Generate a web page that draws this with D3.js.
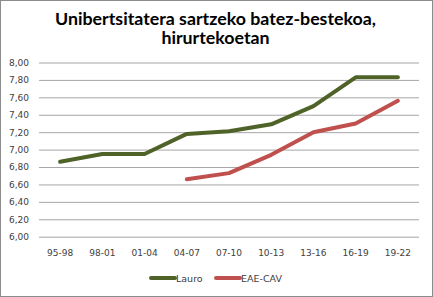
<!DOCTYPE html>
<meta charset="utf-8">
<script src="https://d3js.org/d3.v7.min.js"></script>
<style>
  body { margin: 0; background: #fff; }
</style>
<div id="chart"></div>
<script>
// data
var periods = ["95-98", "98-01", "01-04", "04-07", "07-10", "10-13", "13-16", "16-19", "19-22"];
var lauro   = [6.86, 6.95, 6.95, 7.18, 7.21, 7.29, 7.50, 7.83, 7.83];
var eaeCav  = [null, null, null, 6.66, 6.73, 6.94, 7.20, 7.30, 7.56];
var yTicks  = [6.0, 6.2, 6.4, 6.6, 6.8, 7.0, 7.2, 7.4, 7.6, 7.8, 8.0];

var W = 433, H = 297;
var margin = {top: 62.5, right: 14, bottom: 60.3, left: 39};
var width = W - margin.left - margin.right,
    height = H - margin.top - margin.bottom;

var svg = d3.select("#chart").append("svg")
    .attr("width", W).attr("height", H)
    .style("font-family", "'DejaVu Sans', sans-serif");

// outer border
svg.append("rect")
    .attr("x", 0.5).attr("y", 0.5)
    .attr("width", W - 1).attr("height", H - 1)
    .attr("fill", "#fff").attr("stroke", "#8c8c8c");

// title
var title = svg.append("text")
    .attr("text-anchor", "middle")
    .style("font-family", "Lato, sans-serif")
    .style("font-size", "17.8px")
    .style("font-weight", "bold")
    .attr("fill", "#000");
title.append("tspan").attr("x", W / 2 - 1).attr("y", 25).text("Unibertsitatera sartzeko batez-bestekoa,");
title.append("tspan").attr("x", W / 2 - 1).attr("y", 44).text("hirurtekoetan");

var g = svg.append("g")
    .attr("transform", "translate(" + margin.left + "," + margin.top + ")");

var x = d3.scaleBand().domain(periods).range([0, width]);
var y = d3.scaleLinear().domain([6, 8]).range([height, 0]);

// gridlines + y labels
var yAxis = d3.axisLeft(y)
    .tickValues(yTicks)
    .tickSize(-width)
    .tickPadding(10)
    .tickFormat(function(d){ return d3.format(".2f")(d).replace(".", ","); });
var ya = g.append("g").call(yAxis);
ya.select(".domain").remove();
ya.selectAll("line").attr("stroke", "#a6a6a6");
ya.selectAll("text")
    .attr("fill", "#404040")
    .style("font-size", "9px")
    .style("font-family", "'DejaVu Sans', sans-serif");

// x labels
var xa = g.append("g")
    .attr("transform", "translate(0," + height + ")")
    .call(d3.axisBottom(x).tickSize(0).tickPadding(13));
xa.select(".domain").remove();
xa.selectAll("text")
    .attr("fill", "#404040")
    .style("font-size", "9px")
    .style("font-family", "'DejaVu Sans', sans-serif");

var series = [
  {name: "Lauro",   values: lauro,  color: "#4f6228"},
  {name: "EAE-CAV", values: eaeCav, color: "#c0504d"}
];

var line = d3.line()
    .defined(function(d){ return d != null; })
    .x(function(d, i){ return x(periods[i]) + x.bandwidth() / 2; })
    .y(function(d){ return y(d); });

series.forEach(function(s){
  g.append("path")
    .datum(s.values)
    .attr("d", line)
    .attr("fill", "none")
    .attr("stroke", s.color)
    .attr("stroke-width", 4)
    .attr("stroke-linecap", "round")
    .attr("stroke-linejoin", "round");
});

// legend
var legendX = [151, 216];
series.forEach(function(s, i){
  var lg = svg.append("g").attr("transform", "translate(" + legendX[i] + ",278)");
  lg.append("line")
    .attr("x1", 0).attr("x2", 24)
    .attr("stroke", s.color).attr("stroke-width", 4)
    .attr("stroke-linecap", "round");
  lg.append("text")
    .attr("x", 25).attr("y", 3.5)
    .style("font-size", "9.5px")
    .attr("fill", "#404040")
    .text(s.name);
});
</script>
